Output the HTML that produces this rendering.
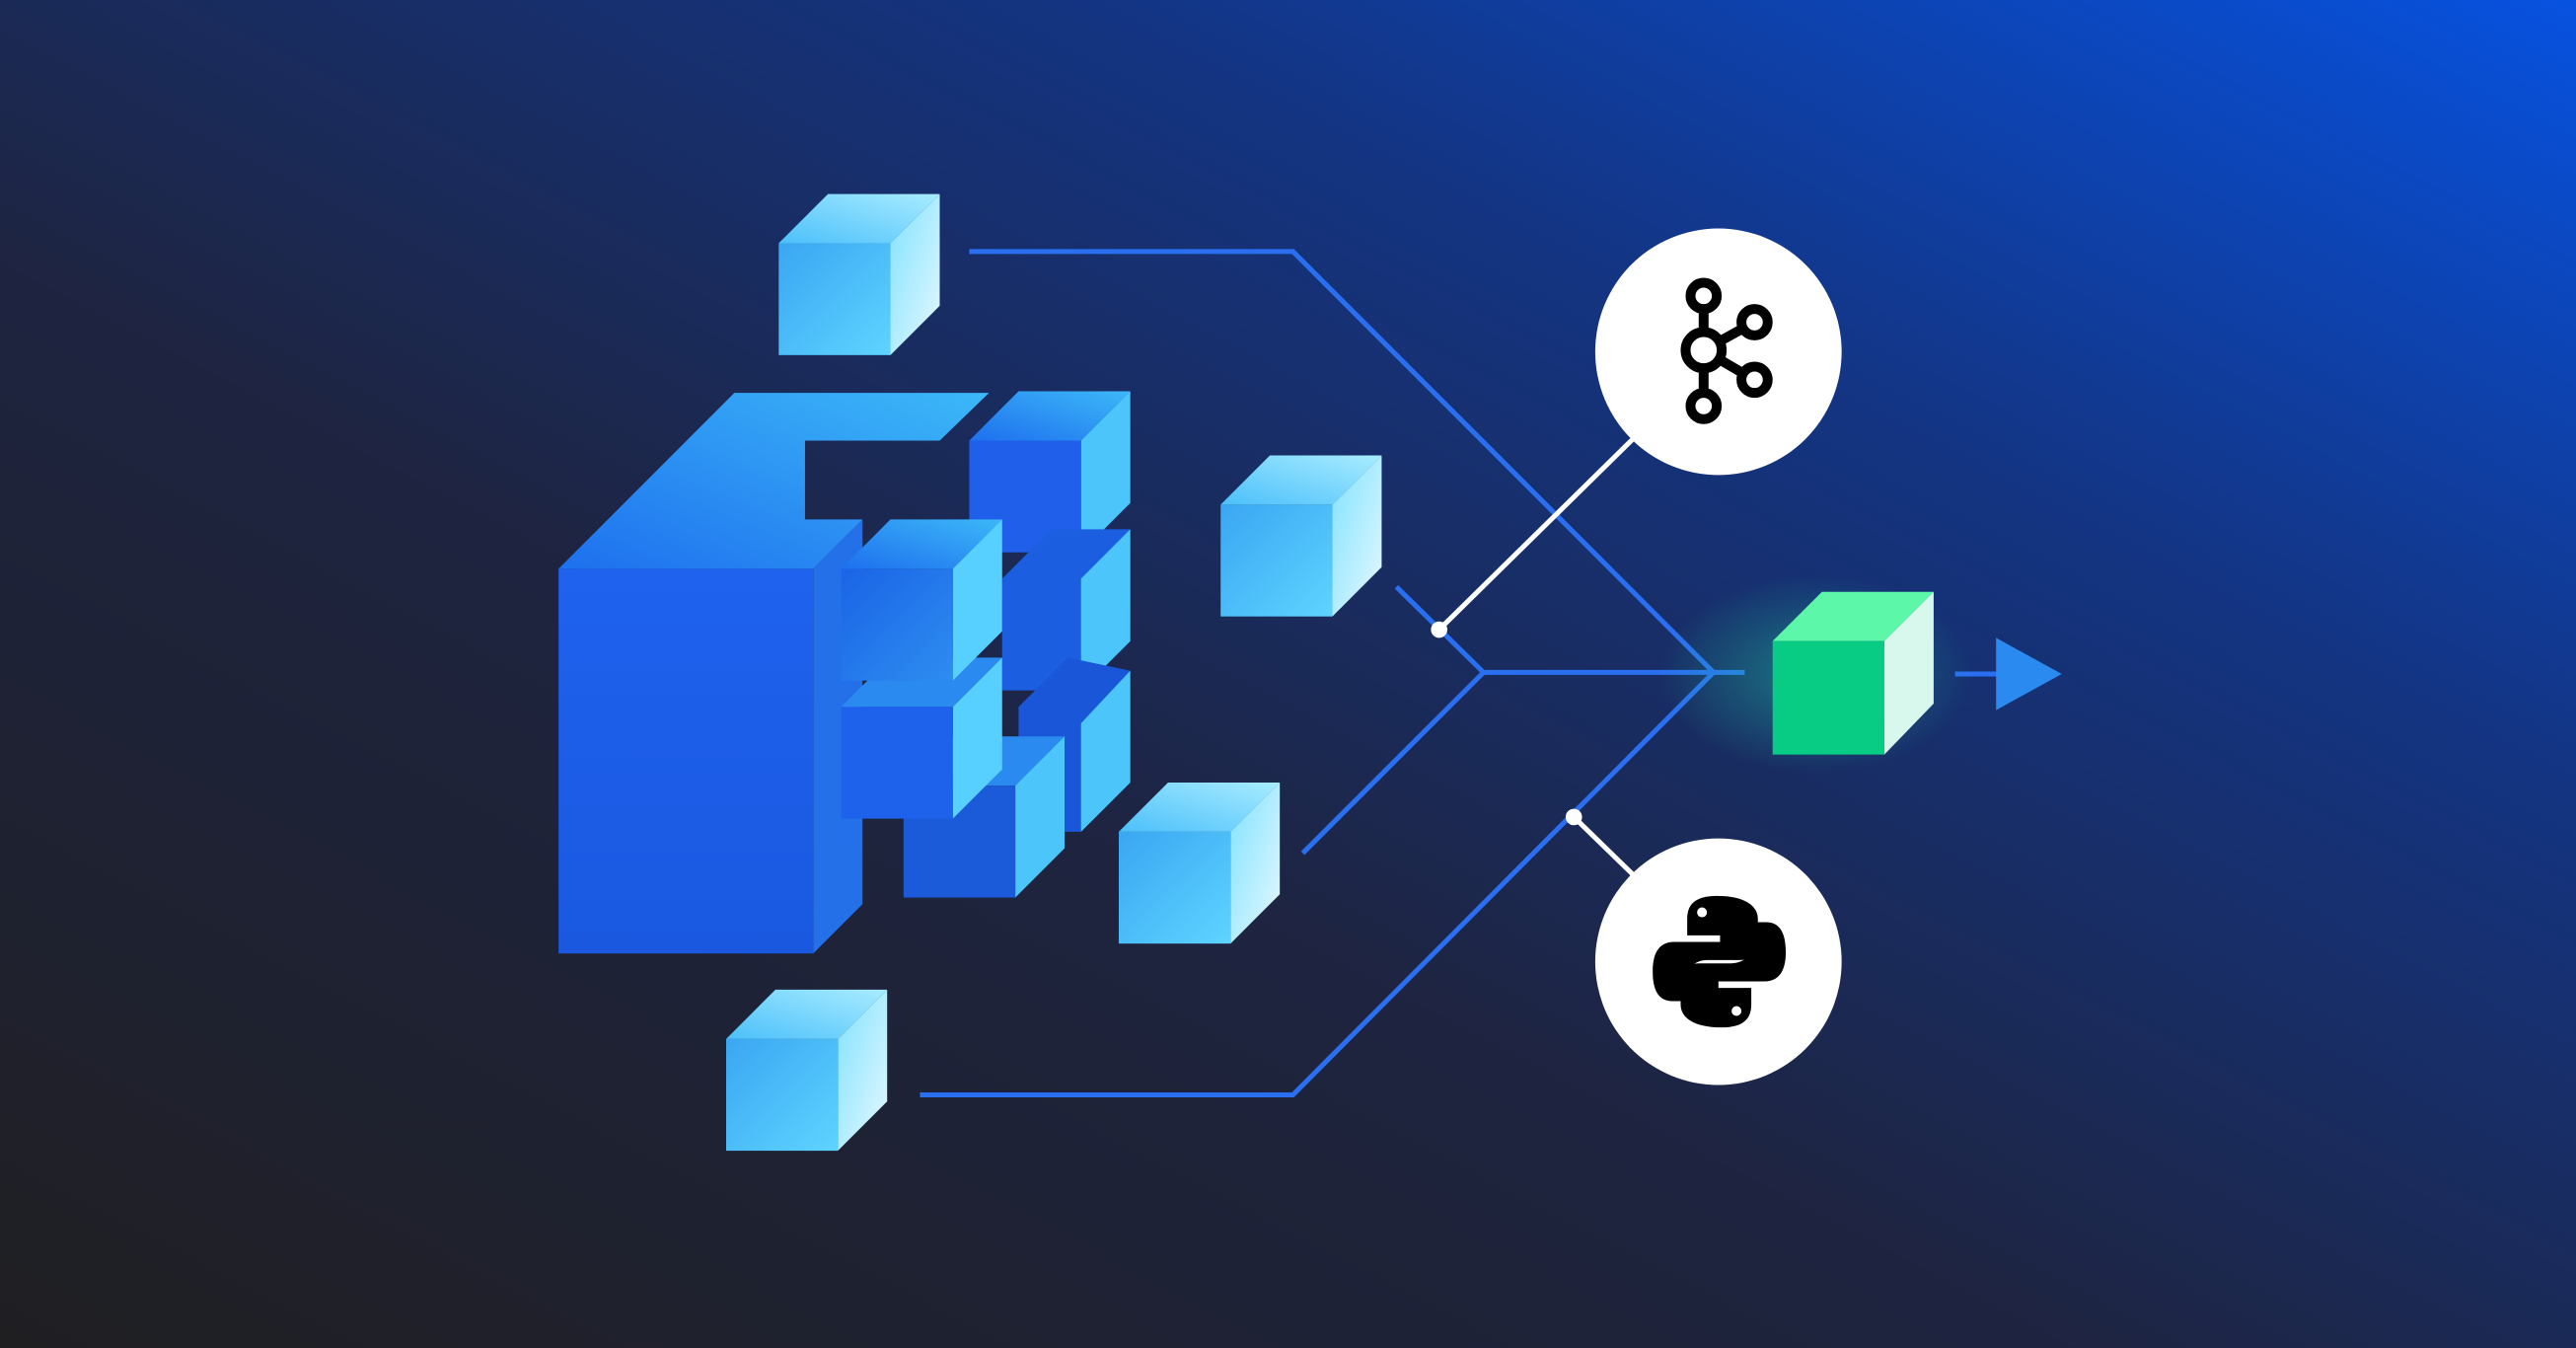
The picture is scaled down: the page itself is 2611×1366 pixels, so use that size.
<!DOCTYPE html>
<html><head><meta charset="utf-8"><style>
html,body{margin:0;padding:0;width:2611px;height:1366px;overflow:hidden;background:#1e2230}
svg{display:block}
</style></head><body>
<svg width="2611" height="1366" viewBox="0 0 1568 820" preserveAspectRatio="none" xmlns="http://www.w3.org/2000/svg">
<defs>
<linearGradient id="bg" x1="0" y1="1" x2="1" y2="0">
<stop offset="0" stop-color="#1f1f22"/><stop offset="0.4" stop-color="#1e2440"/><stop offset="0.72" stop-color="#133585"/><stop offset="1" stop-color="#0752e0"/>
</linearGradient>
<linearGradient id="cf" x1="0" y1="0" x2="1" y2="1"><stop offset="0" stop-color="#3aa6f2"/><stop offset="1" stop-color="#5ed4ff"/></linearGradient>
<linearGradient id="ct" x1="0" y1="1" x2="1" y2="0"><stop offset="0" stop-color="#4cc0fa"/><stop offset="1" stop-color="#a8ecff"/></linearGradient>
<linearGradient id="cr" x1="0" y1="0" x2="1" y2="1"><stop offset="0" stop-color="#7fe2ff"/><stop offset="1" stop-color="#e6f8ff"/></linearGradient>
<linearGradient id="bf" x1="0" y1="0" x2="0" y2="1"><stop offset="0" stop-color="#1f62ee"/><stop offset="1" stop-color="#1a58e0"/></linearGradient>
<linearGradient id="bt" x1="0" y1="1" x2="1" y2="0"><stop offset="0" stop-color="#1e70ee"/><stop offset="1" stop-color="#3cb8f8"/></linearGradient>
<linearGradient id="df" x1="0" y1="0" x2="1" y2="1"><stop offset="0" stop-color="#1a64e6"/><stop offset="1" stop-color="#2e8df0"/></linearGradient>
<radialGradient id="glow" cx="0.5" cy="0.5" r="0.5"><stop offset="0" stop-color="#1fd0a0" stop-opacity="0.45"/><stop offset="1" stop-color="#1fd0a0" stop-opacity="0"/></radialGradient>
</defs>
<rect width="1568" height="820" fill="url(#bg)"/>

<g fill="none" stroke="#2a6ff0" stroke-width="3">
<polyline points="590,153 787,153 1043,409"/>
<polyline points="560,666 787,666 1043,409"/>
<polyline points="903,409 1062,409"/>
<polyline points="850,357 903,409 793,519"/>
<polyline points="1190,410 1218,410"/>
</g>
<polygon points="1215,388 1255,410 1215,432" fill="#2a8af0"/>
<g stroke="#ffffff" stroke-width="3">
<line x1="876" y1="383" x2="995" y2="266"/>
<line x1="958" y1="497" x2="995" y2="533"/>
</g>
<circle cx="876" cy="383" r="5" fill="#fff"/>
<circle cx="958" cy="497" r="5" fill="#fff"/>

<polygon points="340,346 447,239 602,239 572,268 490,268 490,316 525,316 495,346" fill="url(#bt)"/>
<polygon points="495,346 525,316 525,550 495,580" fill="#2470e8"/>
<rect x="340" y="346" width="155" height="234" fill="url(#bf)"/>
<g>
<polygon points="590,268 620,238 688,238 658,268" fill="url(#bt)"/>
<polygon points="658,268 688,238 688,306 658,336" fill="#4cc6fa"/>
<rect x="590" y="268" width="68" height="68" fill="#1f5fea"/>
<polygon points="610,352 640,322 688,322 688,390 658,420 610,420" fill="#1c5ee0"/>
<polygon points="658,352 688,322 688,390 658,420" fill="#4cc6fa"/>
<polygon points="620,430 650,400 688,408 688,476 658,506 620,506" fill="#1a56d8"/>
<polygon points="658,440 688,408 688,476 658,506" fill="#4cc6fa"/>
<polygon points="550,478 580,448 648,448 618,478" fill="#2a8af0"/>
<polygon points="618,478 648,448 648,516 618,546" fill="#4cc6fa"/>
<rect x="550" y="478" width="68" height="68" fill="#1b5ad8"/>
<polygon points="512,430 542,400 610,400 580,430" fill="#2a8af0"/>
<polygon points="580,430 610,400 610,468 580,498" fill="#58d0ff"/>
<rect x="512" y="430" width="68" height="68" fill="#1e62ec"/>
<polygon points="512,346 542,316 610,316 580,346" fill="url(#bt)"/>
<polygon points="580,346 610,316 610,384 580,414" fill="#58d0ff"/>
<rect x="512" y="346" width="68" height="68" fill="url(#df)"/>
</g>

<g>
<polygon points="474,148 504,118 572,118 542,148" fill="url(#ct)"/>
<polygon points="542,148 572,118 572,186 542,216" fill="url(#cr)"/>
<rect x="474" y="148" width="68" height="68" fill="url(#cf)"/>
</g>
<g>
<polygon points="743,307 773,277 841,277 811,307" fill="url(#ct)"/>
<polygon points="811,307 841,277 841,345 811,375" fill="url(#cr)"/>
<rect x="743" y="307" width="68" height="68" fill="url(#cf)"/>
</g>
<g>
<polygon points="681,506 711,476 779,476 749,506" fill="url(#ct)"/>
<polygon points="749,506 779,476 779,544 749,574" fill="url(#cr)"/>
<rect x="681" y="506" width="68" height="68" fill="url(#cf)"/>
</g>
<g>
<polygon points="442,632 472,602 540,602 510,632" fill="url(#ct)"/>
<polygon points="510,632 540,602 540,670 510,700" fill="url(#cr)"/>
<rect x="442" y="632" width="68" height="68" fill="url(#cf)"/>
</g>

<rect x="1010" y="350" width="190" height="120" fill="url(#glow)"/>
<polygon points="1079,390 1109,360 1177,360 1147,390" fill="#5cf7a8"/>
<polygon points="1147,390 1177,360 1177,428 1147,459" fill="#d8f8ee"/>
<rect x="1079" y="390" width="68" height="69" fill="#08cc84"/>

<circle cx="1046" cy="214" r="75" fill="#fff"/>
<circle cx="1046" cy="585" r="75" fill="#fff"/>

<g fill="none" stroke="#000" stroke-width="6">
<line x1="1037" y1="188" x2="1037" y2="240"/>
<line x1="1037" y1="213" x2="1066" y2="197"/>
<line x1="1037" y1="213" x2="1066" y2="230"/>
<circle cx="1037" cy="180" r="8" fill="#fff"/>
<circle cx="1037" cy="213" r="11" fill="#fff"/>
<circle cx="1037" cy="247" r="8" fill="#fff"/>
<circle cx="1068" cy="196" r="8" fill="#fff"/>
<circle cx="1068" cy="231" r="8" fill="#fff"/>
</g>

<g fill="#000">
<path d="M1045,545 c-14,0 -18,6 -18,14 v10 h20 v4 h-28 c-10,0 -13,8 -13,18 c0,12 4,18 12,18 h8 v-12 c0,-8 6,-13 13,-13 h20 c7,0 11,-5 11,-11 v-14 c0,-8 -8,-14 -25,-14z"/>
<path d="M1048,625 c14,0 18,-6 18,-14 v-10 h-20 v-4 h28 c10,0 13,-8 13,-18 c0,-12 -4,-18 -12,-18 h-8 v12 c0,8 -6,13 -13,13 h-20 c-7,0 -11,5 -11,11 v14 c0,8 8,14 25,14z"/>
</g>
<circle cx="1036" cy="555" r="3" fill="#fff"/>
<circle cx="1057" cy="615" r="3" fill="#fff"/>
</svg>
</body></html>
